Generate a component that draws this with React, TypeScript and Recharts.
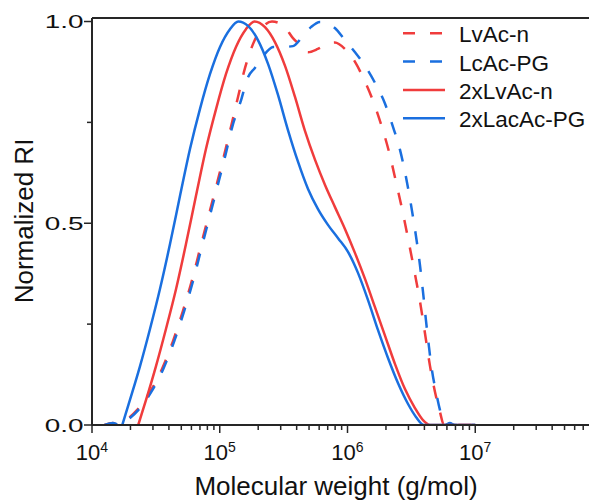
import React from 'react';
import { LineChart, Line, XAxis, YAxis, ReferenceLine, Legend, Label } from 'recharts';

// log10 of molecular weight (g/mol) and normalized RI for each sample
const lvAcNLogM = [4.098, 4.163, 4.204, 4.266, 4.352, 4.454, 4.548, 4.634, 4.712, 4.783, 4.845, 4.908, 4.971, 5.033, 5.088, 5.143, 5.198, 5.26, 5.331, 5.409, 5.495, 5.573, 5.641, 5.69, 5.768, 5.847, 5.901, 5.98, 6.059, 6.121, 6.192, 6.262, 6.325, 6.38, 6.434, 6.481, 6.528, 6.568, 6.607, 6.646, 6.685, 6.724, 6.755, 6.801, 6.84, 7.0];
const lvAcNRI = [0, 0.005, 0, 0.012, 0.037, 0.082, 0.139, 0.208, 0.283, 0.359, 0.436, 0.513, 0.59, 0.667, 0.739, 0.813, 0.885, 0.944, 0.984, 1.0, 0.991, 0.959, 0.938, 0.924, 0.932, 0.945, 0.948, 0.932, 0.9, 0.862, 0.81, 0.746, 0.677, 0.602, 0.525, 0.451, 0.374, 0.305, 0.226, 0.146, 0.082, 0.032, 0, 0.005, 0, 0];

const lcAcPGLogM = [4.098, 4.163, 4.214, 4.276, 4.362, 4.464, 4.558, 4.644, 4.722, 4.793, 4.855, 4.918, 4.981, 5.043, 5.098, 5.162, 5.221, 5.275, 5.33, 5.367, 5.419, 5.495, 5.573, 5.651, 5.714, 5.784, 5.839, 5.901, 5.98, 6.059, 6.137, 6.215, 6.294, 6.356, 6.411, 6.45, 6.481, 6.513, 6.544, 6.568, 6.591, 6.614, 6.638, 6.661, 6.693, 6.724, 6.763, 6.801, 6.84, 7.0];
const lcAcPGRI = [0, 0.005, 0, 0.012, 0.037, 0.082, 0.139, 0.208, 0.283, 0.359, 0.436, 0.513, 0.59, 0.667, 0.739, 0.8, 0.862, 0.885, 0.91, 0.925, 0.937, 0.937, 0.939, 0.964, 0.986, 0.999, 0.996, 0.984, 0.954, 0.924, 0.89, 0.848, 0.796, 0.739, 0.682, 0.627, 0.575, 0.515, 0.451, 0.394, 0.33, 0.26, 0.193, 0.136, 0.082, 0.037, 0, 0.005, 0, 0];

const lvAcN2LogM = [4.362, 4.423, 4.501, 4.579, 4.658, 4.736, 4.814, 4.892, 4.971, 5.049, 5.127, 5.205, 5.272, 5.354, 5.432, 5.511, 5.589, 5.667, 5.746, 5.824, 5.902, 5.98, 6.059, 6.137, 6.215, 6.294, 6.372, 6.45, 6.528, 6.591, 6.646, 7.0];
const lvAcN2RI = [0, 0.062, 0.146, 0.238, 0.337, 0.449, 0.568, 0.684, 0.783, 0.87, 0.937, 0.981, 1.0, 0.986, 0.949, 0.89, 0.813, 0.729, 0.657, 0.595, 0.54, 0.486, 0.426, 0.362, 0.292, 0.221, 0.151, 0.089, 0.042, 0.012, 0, 0];

const lacAcPG2LogM = [4.237, 4.297, 4.376, 4.454, 4.532, 4.611, 4.689, 4.767, 4.845, 4.924, 5.002, 5.08, 5.145, 5.221, 5.299, 5.378, 5.456, 5.534, 5.613, 5.691, 5.769, 5.847, 5.926, 6.004, 6.082, 6.16, 6.239, 6.317, 6.395, 6.474, 6.536, 6.599, 7.0];
const lacAcPG2RI = [0, 0.062, 0.146, 0.238, 0.337, 0.449, 0.568, 0.684, 0.783, 0.87, 0.937, 0.981, 1.0, 0.989, 0.954, 0.895, 0.818, 0.731, 0.652, 0.585, 0.535, 0.496, 0.463, 0.429, 0.377, 0.31, 0.235, 0.166, 0.104, 0.052, 0.02, 0, 0];

const seriesNames = ['LvAc-n', 'LcAc-PG', '2xLvAc-n', '2xLacAc-PG'];
const yTicks = [0, 0.25, 0.5, 0.75, 1.0];
const xDecades = [4, 5, 6, 7];
const xTitle = 'Molecular weight (g/mol)';
const yTitle = 'Normalized RI';

const RED = '#F03C3C';
const BLUE = '#1A6FDF';
const AXIS = '#262626';
const FONT = '"Liberation Sans", Arial, sans-serif';
const Y_MAX = 1.0087;

const toRows = (lg: number[], v: number[]) => lg.map((l, i) => ({ m: Math.pow(10, l), v: v[i] }));

const xTicks: number[] = [];
xDecades.forEach((d) => {
  for (let k = 1; k <= 9; k++) xTicks.push(k * Math.pow(10, d));
});

const series = [
  { name: seriesNames[0], rows: toRows(lvAcNLogM, lvAcNRI), color: RED, dash: '13 15' },
  { name: seriesNames[1], rows: toRows(lcAcPGLogM, lcAcPGRI), color: BLUE, dash: '13 15' },
  { name: seriesNames[2], rows: toRows(lvAcN2LogM, lvAcN2RI), color: RED, dash: undefined },
  { name: seriesNames[3], rows: toRows(lacAcPG2LogM, lacAcPG2RI), color: BLUE, dash: undefined },
];

const XTick = (props: any) => {
  const { x, y, payload } = props;
  const lg = Math.log10(payload.value);
  const major = Math.abs(lg - Math.round(lg)) < 1e-6;
  return (
    <g>
      <line x1={x} x2={x} y1={y} y2={y + (major ? 8 : 5)} stroke={AXIS} strokeWidth={1.5} />
      {major && (
        <text x={x} y={y + 35} textAnchor="middle" fill="#111" fontFamily={FONT} fontSize={22}>
          <tspan>10</tspan>
          <tspan fontSize={14} dy={-8}>{Math.round(lg)}</tspan>
        </text>
      )}
    </g>
  );
};

const YTick = (props: any) => {
  const { x, y, payload } = props;
  const v = payload.value;
  const major = Math.abs(v * 2 - Math.round(v * 2)) < 1e-6;
  return (
    <g>
      <line x1={x - (major ? 8 : 5)} x2={x} y1={y} y2={y} stroke={AXIS} strokeWidth={1.5} />
      {major && (
        <text
          transform={`translate(${x - 8.5},${y + 6.7}) scale(1.5,1)`}
          textAnchor="end"
          fill="#111"
          fontFamily={FONT}
          fontSize={18.6}
        >
          {v.toFixed(1)}
        </text>
      )}
    </g>
  );
};

const LegendContent = () => (
  <svg width={200} height={125}>
    {series.map((s, i) => (
      <g key={s.name}>
        <line
          x1={8}
          x2={50}
          y1={18.3 + i * 28.3}
          y2={18.3 + i * 28.3}
          stroke={s.color}
          strokeWidth={2.5}
          strokeDasharray={s.dash ? '12 15' : undefined}
        />
        <text x={64} y={27.3 + i * 28.3} fontFamily={FONT} fontSize={22.5} fill="#111">
          {s.name}
        </text>
      </g>
    ))}
  </svg>
);

export default function App() {
  return (
    <div
      style={{
        position: 'absolute',
        left: 0,
        top: 0,
        width: 589,
        height: 500,
        overflow: 'hidden',
        background: '#fff',
        fontFamily: FONT,
      }}
    >
      <LineChart width={620} height={500} margin={{ top: 18, right: 17, left: 0, bottom: 0 }}>
        <XAxis
          dataKey="m"
          type="number"
          scale="log"
          domain={[1e4, 1e8]}
          allowDataOverflow
          ticks={xTicks}
          interval={0}
          tick={<XTick />}
          tickLine={false}
          tickSize={0}
          tickMargin={0}
          height={75}
          axisLine={{ stroke: AXIS, strokeWidth: 2 }}
        >
          <Label
            content={() => (
              <text x={336} y={495} textAnchor="middle" fontFamily={FONT} fontSize={26} fill="#111">
                {xTitle}
              </text>
            )}
          />
        </XAxis>
        <YAxis
          dataKey="v"
          type="number"
          domain={[0, Y_MAX]}
          allowDataOverflow
          ticks={yTicks}
          interval={0}
          tick={<YTick />}
          tickLine={false}
          tickSize={0}
          tickMargin={0}
          width={92}
          axisLine={{ stroke: AXIS, strokeWidth: 2 }}
        >
          <Label
            content={() => (
              <text
                transform="translate(33,221) rotate(-90)"
                textAnchor="middle"
                fontFamily={FONT}
                fontSize={26}
                fill="#111"
              >
                {yTitle}
              </text>
            )}
          />
        </YAxis>
        <ReferenceLine y={Y_MAX} stroke={AXIS} strokeWidth={2} />
        <Legend
          layout="vertical"
          align="center"
          verticalAlign="middle"
          content={<LegendContent />}
          wrapperStyle={{ position: 'absolute', left: 395, top: 15, width: 200, height: 125 }}
        />
        {series.map((s) => (
          <Line
            key={s.name}
            name={s.name}
            data={s.rows}
            dataKey="v"
            type="monotone"
            dot={false}
            activeDot={false}
            stroke={s.color}
            strokeWidth={2.5}
            strokeDasharray={s.dash}
            isAnimationActive={false}
          />
        ))}
      </LineChart>
    </div>
  );
}
